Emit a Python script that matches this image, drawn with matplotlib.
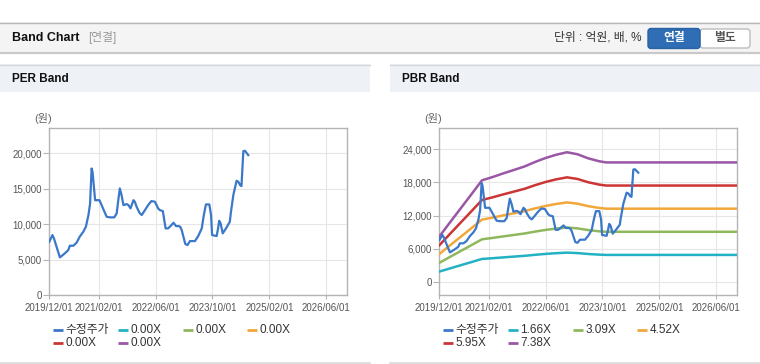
import numpy as np
import pandas as pd
import matplotlib
matplotlib.use('Agg')
import matplotlib.pyplot as plt
import matplotlib.dates as mdates
from matplotlib.patches import Rectangle, FancyBboxPatch
from matplotlib.ticker import FuncFormatter

plt.rcParams['font.family'] = ['Liberation Sans', 'Noto Sans CJK KR', 'DejaVu Sans']

## adjusted price (수정주가)
price_dates = ['2019-12-01', '2019-12-28', '2020-01-10', '2020-02-01', '2020-03-01', '2020-03-15',
               '2020-04-12', '2020-05-12', '2020-05-25', '2020-06-25', '2020-07-22', '2020-08-18',
               '2020-09-18', '2020-10-10', '2020-11-01', '2020-11-15', '2020-11-28', '2020-12-06',
               '2020-12-28', '2021-02-03', '2021-02-22', '2021-03-12', '2021-04-06', '2021-05-04',
               '2021-06-10', '2021-07-01', '2021-07-15', '2021-07-28', '2021-08-12', '2021-08-28',
               '2021-09-25', '2021-10-10', '2021-10-28', '2021-11-22', '2021-12-04', '2021-12-19',
               '2022-01-13', '2022-02-01', '2022-03-01', '2022-03-28', '2022-04-25', '2022-05-25',
               '2022-06-22', '2022-07-06', '2022-08-01', '2022-08-25', '2022-09-15', '2022-10-06',
               '2022-11-01', '2022-11-22', '2022-12-13', '2022-12-28', '2023-01-10', '2023-02-10',
               '2023-03-01', '2023-03-22', '2023-05-04', '2023-06-01', '2023-07-01', '2023-07-19',
               '2023-08-06', '2023-09-04', '2023-09-19', '2023-09-28', '2023-11-06', '2023-11-18',
               '2023-11-28', '2023-12-10', '2023-12-28', '2024-01-25', '2024-02-27', '2024-03-06',
               '2024-03-28', '2024-04-25', '2024-05-10', '2024-05-25', '2024-06-06', '2024-06-22',
               '2024-07-06', '2024-08-03']
price = [7530, 8470, 8000, 6820, 5320, 5500,
         5880, 6350, 6960, 6960, 7390, 8240,
         8940, 9650, 11300, 12940, 17880, 17400,
         13400, 13400, 12700, 12000, 11060, 10970,
         10970, 11530, 13400, 15060, 14120, 12700,
         12850, 12700, 12240, 13400, 13180, 12470,
         11620, 11300, 12000, 12700, 13270, 13180,
         12240, 12000, 11860, 9410, 9410, 9740,
         10210, 9740, 9740, 9650, 9180, 7200,
         7060, 7620, 7620, 8330, 9410, 11300,
         12800, 12800, 11300, 8470, 8330, 9410,
         10490, 10120, 8710, 9410, 10350, 11530,
         14120, 16140, 16000, 15530, 15390, 20330,
         20380, 19770]

## BPS used for the PBR band lines
bps_dates = ['2019-12-01', '2020-03-01', '2020-06-01', '2020-09-01', '2020-12-01', '2021-03-01',
             '2021-06-01', '2021-09-01', '2021-12-01', '2022-03-01', '2022-06-01', '2022-09-01',
             '2022-12-01', '2023-03-01', '2023-06-01', '2023-09-01', '2023-11-01', '2024-06-01',
             '2025-06-01', '2026-12-01']
bps = [1110, 1455, 1800, 2145, 2490, 2570,
       2660, 2745, 2830, 2940, 3040, 3120,
       3180, 3130, 3030, 2960, 2930, 2930,
       2930, 2930]
pbr_multiples = [1.66, 3.09, 4.52, 5.95, 7.38]

per_labels = ['수정주가', '0.00X', '0.00X', '0.00X', '0.00X', '0.00X']
pbr_labels = ['수정주가', '1.66X', '3.09X', '4.52X', '5.95X', '7.38X']
colors = ['#3b78c9', '#22b2c4', '#8fb85c', '#f2a73b', '#cc3535', '#9957a6']

x_ticks = ['2019-12-01', '2021-02-01', '2022-06-01', '2023-10-01', '2025-02-01', '2026-06-01']

price_dates = pd.to_datetime(price_dates)
bps_dates = pd.to_datetime(bps_dates)
x_ticks = pd.to_datetime(x_ticks)

W, H = 760, 364
fig = plt.figure(figsize=(W / 100, H / 100), dpi=100)

# background layer in pixel coords
bg = fig.add_axes([0, 0, 1, 1], zorder=-1)
bg.set_xlim(0, W)
bg.set_ylim(H, 0)
bg.axis('off')

bg.add_patch(Rectangle((0, 22), W, 30.5, facecolor='#f4f4f4', edgecolor='none'))
bg.plot([0, W], [22.5, 22.5], color='#b8b8b8', lw=1)
bg.plot([0, W], [53, 53], color='#c9c9c9', lw=1.6)
bg.text(12, 38, 'Band Chart', fontsize=9, fontweight='bold', va='center', color='#111111')
bg.text(88, 38, '[연결]', fontsize=8.5, va='center', color='#999999')
bg.text(642, 38, '단위 : 억원, 배, %', fontsize=8.5, va='center', ha='right', color='#333333')
bg.add_patch(FancyBboxPatch((700, 29), 50, 19, boxstyle='round,pad=0,rounding_size=3',
                            facecolor='white', edgecolor='#bdbdbd', lw=1))
bg.add_patch(FancyBboxPatch((648, 28.5), 52, 20, boxstyle='round,pad=0,rounding_size=3',
                            facecolor='#2f6db5', edgecolor='#2a62a3', lw=1))
bg.text(674, 38.5, '연결', fontsize=8.5, fontweight='bold', color='white', ha='center', va='center')
bg.text(725, 38.5, '별도', fontsize=8.5, fontweight='bold', color='#555555', ha='center', va='center')

for x0, title in [(0, 'PER Band'), (390, 'PBR Band')]:
    bg.add_patch(Rectangle((x0, 64), 370, 28, facecolor='#eef2f7', edgecolor='none'))
    bg.plot([x0, x0 + 370], [64.5, 64.5], color='#d6d6d6', lw=1)
    bg.plot([x0, x0 + 370], [362.5, 362.5], color='#d9d9d9', lw=1.2)
    bg.text(x0 + 12, 79, title, fontsize=8.5, fontweight='bold', va='center', color='#111111')


def draw_panel(left, ylim, yticks, labels, bands):
    ax = fig.add_axes([left / W, (H - 295) / H, 298 / W, 167 / H])
    ax.plot(price_dates, price, color=colors[0], lw=1.6, zorder=5)
    for i, b in enumerate(bands):
        ax.plot(bps_dates, b, color=colors[i + 1], lw=1.8, zorder=3)
    ax.set_xlim(pd.Timestamp('2019-12-01'), pd.Timestamp('2026-12-01'))
    ax.set_ylim(*ylim)
    ax.set_yticks(yticks)
    ax.set_xticks(x_ticks)
    ax.xaxis.set_major_formatter(mdates.DateFormatter('%Y/%m/%d'))
    ax.yaxis.set_major_formatter(FuncFormatter(lambda v, p: f'{int(v):,}'))
    ax.grid(True, color='#e6e6e6', lw=0.8)
    ax.set_axisbelow(True)
    for s in ax.spines.values():
        s.set_color('#b4b4b4')
        s.set_linewidth(1)
    ax.tick_params(axis='y', length=4, width=0.8, color='#b4b4b4', pad=1.5,
                   labelsize=7, labelcolor='#555555')
    ax.tick_params(axis='x', length=3, width=0.8, color='#b4b4b4', pad=3,
                   labelsize=7, labelcolor='#555555')
    # unit label
    bg.text(left - 15, 118, '(원)', fontsize=8, ha='left', va='center', color='#666666')
    # legend drawn by hand
    cols = [left + 4, left + 69, left + 134, left + 198]
    rows = [330, 343]
    for i, lab in enumerate(labels):
        cx = cols[i % 4]
        cy = rows[i // 4]
        bg.plot([cx, cx + 10], [cy, cy], color=colors[i], lw=2, solid_capstyle='butt')
        bg.text(cx + 12, cy, lab, fontsize=8.5, va='center', color='#333333')
    return ax


draw_panel(49.3, (0, 23600), [0, 5000, 10000, 15000, 20000], per_labels, [])
pbr_bands = [np.array(bps) * m for m in pbr_multiples]
draw_panel(439.3, (-2400, 27860), [0, 6000, 12000, 18000, 24000], pbr_labels, pbr_bands)

fig.savefig('out.png', dpi=100)
